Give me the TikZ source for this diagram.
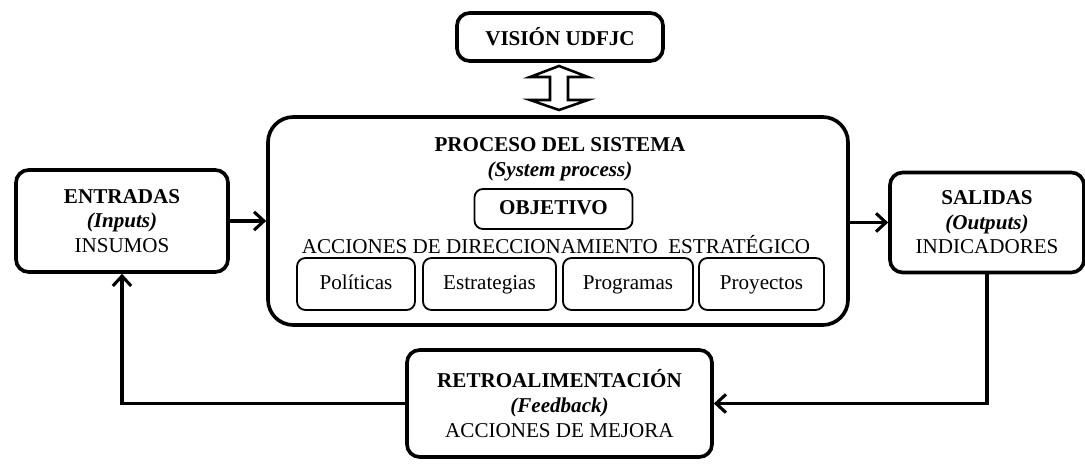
\documentclass[tikz,border=0pt]{standalone}
\usepackage{fontspec}
\setmainfont{Liberation Serif}
\usetikzlibrary{arrows.meta,positioning}
\newcommand{\pxl}{0.025cm}
\begin{document}
\begin{tikzpicture}[
  x=\pxl, y=-\pxl,
  font=\fontsize{15pt}{17.5pt}\selectfont,
  bigbox/.style={rectangle, draw, line width=2.6pt, rounded corners=9pt, align=center, inner sep=0pt},
  smallbox/.style={rectangle, draw, line width=1.3pt, rounded corners=6pt, align=center, inner sep=0pt,
    minimum height=52*\pxl, text height=11pt, text depth=3.5pt},
  conn/.style={-{Straight Barb[length=7pt,width=13pt,line width=2.2pt]}, line width=2.2pt},
  dblarrow/.style={draw, fill=white, line width=1.8pt, line join=miter}
]
\useasboundingbox (0,0) rectangle (1085,464);

% Vision
\node[bigbox, minimum width=206*\pxl, minimum height=48*\pxl] (vision) at (560,37) {\textbf{VISIÓN UDFJC}};

% System process
\node[bigbox, rounded corners=18pt, minimum width=580*\pxl, minimum height=208*\pxl] (proceso) at (558,221) {};
\node (titulo) at (560,159) [align=center] {\textbf{PROCESO DEL SISTEMA}\\\textbf{\textit{(System process)}}};
\node[smallbox, minimum width=158*\pxl, minimum height=40*\pxl] (objetivo) at (553.5,209) {\textbf{OBJETIVO}};
\node (acciones) at (556,245) {ACCIONES DE DIRECCIONAMIENTO\ \ ESTRATÉGICO};
\node[smallbox, minimum width=118*\pxl] (politicas) at (356,284) {Políticas};
\node[smallbox, minimum width=133*\pxl] (estrategias) at (489.5,284) {Estrategias};
\node[smallbox, minimum width=130*\pxl] (programas) at (628,284) {Programas};
\node[smallbox, minimum width=125*\pxl] (proyectos) at (761.5,284) {Proyectos};

% Inputs, outputs, feedback
\node[bigbox, minimum width=212*\pxl, minimum height=102*\pxl] (entradas) at (122,221)
  {\textbf{ENTRADAS}\\\textbf{\textit{(Inputs)}}\\INSUMOS};
\node[bigbox, minimum width=194*\pxl, minimum height=100*\pxl] (salidas) at (987,222.5)
  {\textbf{SALIDAS}\\\textbf{\textit{(Outputs)}}\\INDICADORES};
\node[bigbox, minimum width=305*\pxl, minimum height=107*\pxl] (retro) at (559.5,403.5)
  {\textbf{RETROALIMENTACIÓN}\\\textbf{\textit{(Feedback)}}\\ACCIONES DE MEJORA};

% Connectors
\draw[conn] (entradas) -- (proceso.west |- entradas);
\draw[conn] (proceso.east |- salidas.west) -- (salidas.west);
\draw[conn] (salidas.south) |- (retro.east);
\draw[conn] (retro.west) -| (entradas.south);

% Vision <-> process
\coordinate (va) at (559,66);
\draw[dblarrow] (va) -- ++(29,11) -- ++(-20,0) -- ++(0,23) -- ++(20,0) -- ++(-29,10)
  -- ++(-29,-10) -- ++(20,0) -- ++(0,-23) -- ++(-20,0) -- cycle;

\end{tikzpicture}
\end{document}
